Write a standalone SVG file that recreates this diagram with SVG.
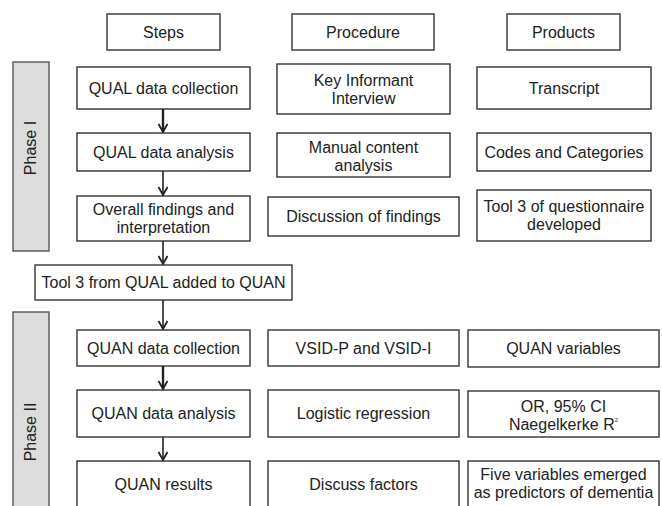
<svg xmlns="http://www.w3.org/2000/svg" width="662" height="506" viewBox="0 0 662 506">
<defs>
<style>
.box{fill:#fff;stroke:#333;stroke-width:1.4}
.bar{fill:#dcdcdc;stroke:#555;stroke-width:1.4}
text{font-family:"Liberation Sans",Arial,sans-serif;font-size:16px;fill:#222;text-anchor:middle}
.conn{stroke:#222;stroke-width:1.6;fill:none}
.bold{stroke-width:2.4}
</style>
<marker id="ah" viewBox="-10 -6 12 12" markerWidth="12" markerHeight="12" refX="0" refY="0" orient="auto" markerUnits="userSpaceOnUse">
<path d="M-8,-4.5 L0,0 L-8,4.5" fill="none" stroke="#222" stroke-width="1.8"/>
</marker>
</defs>
<rect width="662" height="506" fill="#fff"/>
<g id="phase1"><rect class="bar" x="13" y="62" width="36" height="189"/><text transform="translate(36,148) rotate(-90)">Phase I</text></g>
<g id="phase2"><rect class="bar" x="13" y="312" width="36" height="210"/><text transform="translate(36,432) rotate(-90)">Phase II</text></g>
<g id="h-steps"><rect class="box" x="107" y="14" width="113" height="36"/><text x="163.5" y="38">Steps</text></g>
<g id="h-procedure"><rect class="box" x="292" y="14" width="142" height="36"/><text x="363" y="38">Procedure</text></g>
<g id="h-products"><rect class="box" x="507" y="14" width="113" height="36"/><text x="563.5" y="38">Products</text></g>
<g id="s1"><rect class="box" x="77" y="67" width="173" height="42"/><text x="163.5" y="94">QUAL data collection</text></g>
<g id="p1"><rect class="box" x="277" y="64" width="173" height="50"/><text x="363.5" y="86">Key Informant</text><text x="363.5" y="104">Interview</text></g>
<g id="r1"><rect class="box" x="477" y="67" width="174" height="42"/><text x="564" y="94">Transcript</text></g>
<g id="s2"><rect class="box" x="77" y="133" width="173" height="38"/><text x="163.5" y="158">QUAL data analysis</text></g>
<g id="p2"><rect class="box" x="277" y="133" width="173" height="44"/><text x="363.5" y="153">Manual content</text><text x="363.5" y="171">analysis</text></g>
<g id="r2"><rect class="box" x="477" y="133" width="174" height="38"/><text x="564" y="158">Codes and Categories</text></g>
<g id="s3"><rect class="box" x="77" y="196" width="173" height="45"/><text x="163.5" y="215">Overall findings and</text><text x="163.5" y="233">interpretation</text></g>
<g id="p3"><rect class="box" x="268" y="197" width="191" height="39"/><text x="363.5" y="222">Discussion of findings</text></g>
<g id="r3"><rect class="box" x="477" y="190" width="174" height="51"/><text x="564" y="212">Tool 3 of questionnaire</text><text x="564" y="230">developed</text></g>
<g id="t3"><rect class="box" x="35" y="265" width="257" height="35"/><text x="163.5" y="288">Tool 3 from QUAL added to QUAN</text></g>
<g id="s4"><rect class="box" x="77" y="330" width="173" height="36"/><text x="163.5" y="354">QUAN data collection</text></g>
<g id="p4"><rect class="box" x="268" y="330" width="191" height="36"/><text x="363.5" y="354">VSID-P and VSID-I</text></g>
<g id="r4"><rect class="box" x="468" y="330" width="191" height="37"/><text x="563.5" y="354">QUAN variables</text></g>
<g id="s5"><rect class="box" x="77" y="390" width="173" height="47"/><text x="163.5" y="419">QUAN data analysis</text></g>
<g id="p5"><rect class="box" x="268" y="390" width="191" height="47"/><text x="363.5" y="419">Logistic regression</text></g>
<g id="r5"><rect class="box" x="468" y="391" width="191" height="46"/><text x="563.5" y="412">OR, 95% CI</text><text x="563.5" y="430">Naegelkerke R<tspan font-size="6" dy="-8">2</tspan></text></g>
<g id="s6"><rect class="box" x="77" y="461" width="173" height="60"/><text x="163.5" y="490">QUAN results</text></g>
<g id="p6"><rect class="box" x="268" y="461" width="191" height="60"/><text x="363.5" y="490">Discuss factors</text></g>
<g id="r6"><rect class="box" x="468" y="461" width="191" height="60"/><text x="563.5" y="480">Five variables emerged</text><text x="563.5" y="498">as predictors of dementia</text></g>
<g id="connectors">
<line class="conn bold" x1="163" y1="109" x2="163" y2="132" marker-end="url(#ah)"/>
<line class="conn" x1="163" y1="171" x2="163" y2="195" marker-end="url(#ah)"/>
<line class="conn" x1="163" y1="241" x2="163" y2="264" marker-end="url(#ah)"/>
<line class="conn" x1="163" y1="300" x2="163" y2="329" marker-end="url(#ah)"/>
<line class="conn bold" x1="163" y1="366" x2="163" y2="389" marker-end="url(#ah)"/>
<line class="conn" x1="163" y1="437" x2="163" y2="460" marker-end="url(#ah)"/>
</g>
</svg>
